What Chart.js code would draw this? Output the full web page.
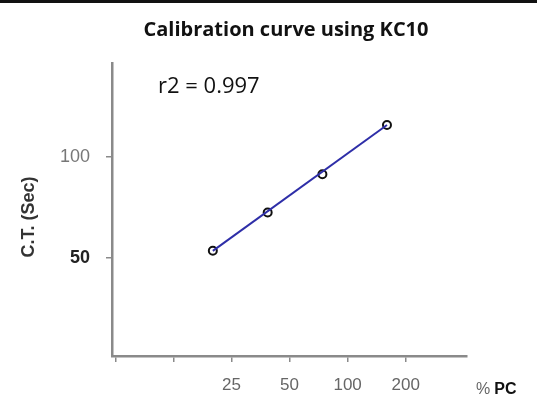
<!DOCTYPE html>
<html>
<head>
<meta charset="utf-8">
<script src="https://cdn.jsdelivr.net/npm/chart.js@4.4.1/dist/chart.umd.min.js"></script>
<style>
  html, body { margin: 0; padding: 0; background: #fff; }
  #wrap { width: 537px; height: 407px; }
</style>
</head>
<body>
<div id="wrap"><canvas id="calChart" width="537" height="407"></canvas></div>
<script>
/* values */
const pcPercent   = [20, 38.5, 74, 160];       // % PC
const clotTime    = [53.5, 72.4, 91.3, 115.6]; // C.T. (sec)
const fitPercent  = [20, 160];
const fitTime     = [53.5, 115.6];
const xTickValues = [6.25, 12.5, 25, 50, 100, 200];
const xTickLabels = ['', '', '25', '50', '100', '200'];
const yTickValues = [50, 100];
const yTickLabels = ['50', '100'];
const chartTitle  = 'Calibration curve using KC10';
const r2Text      = 'r2 = 0.997';
const yTitle      = 'C.T. (Sec)';

/* ---------- extra texts (title, r2, axis names) ---------- */
const decorations = {
  id: 'decorations',
  afterDraw(chart) {
    const c = chart.ctx;
    c.save();
    c.fillStyle = '#111';
    c.fillRect(0, 0, chart.width, 3);

    c.textBaseline = 'middle';
    c.textAlign = 'center';
    c.font = 'bold 20px "Open Sans"';
    c.fillText(chartTitle, 286, 30);

    c.textAlign = 'left';
    c.font = '22px "Open Sans"';
    c.fillText(r2Text, 158, 87);

    // % PC
    c.font = '16px "Liberation Sans"';
    c.fillStyle = '#666';
    c.fillText('%', 476, 390);
    const w = c.measureText('%').width;
    c.font = 'bold 16px "Liberation Sans"';
    c.fillStyle = '#111';
    c.fillText('PC', 476 + w + 4, 390);

    // y title
    c.translate(29, 217);
    c.rotate(-Math.PI / 2);
    c.textAlign = 'center';
    c.font = 'bold 18px "Liberation Sans"';
    c.fillStyle = '#333';
    c.fillText(yTitle, 0, 0);
    c.restore();
  }
};

const axisGrey = '#8a8a8a';

new Chart(document.getElementById('calChart'), {
  type: 'scatter',
  data: {
    datasets: [
      {
        type: 'line',
        data: fitPercent.map((x, i) => ({ x, y: fitTime[i] })),
        borderColor: '#2e2ea8',
        borderWidth: 2,
        pointRadius: 0,
        fill: false
      },
      {
        data: pcPercent.map((x, i) => ({ x, y: clotTime[i] })),
        pointRadius: 4,
        pointBorderWidth: 2,
        pointBorderColor: '#111',
        pointBackgroundColor: '#fff'
      }
    ]
  },
  options: {
    responsive: false,
    animation: false,
    layout: { padding: { top: 63, right: 70, left: 0, bottom: 0 } },
    plugins: { legend: { display: false }, tooltip: { enabled: false } },
    scales: {
      x: {
        type: 'logarithmic',
        min: 6, max: 416,
        afterBuildTicks: s => { s.ticks = xTickValues.map(v => ({ value: v })); },
        afterFit: s => { s.height = 51; },
        grid: { drawOnChartArea: false, tickLength: 6, color: axisGrey, lineWidth: 1.5 },
        border: { color: axisGrey, width: 2.5 },
        ticks: {
          callback: (v, i) => xTickLabels[i],
          color: '#666',
          font: { family: 'Liberation Sans', size: 17 },
          padding: 13, maxRotation: 0, autoSkip: false
        }
      },
      y: {
        min: 1.6, max: 146.2,
        afterBuildTicks: s => { s.ticks = yTickValues.map(v => ({ value: v })); },
        afterFit: s => { s.width = 112; },
        grid: { drawOnChartArea: false, tickLength: 6, color: axisGrey, lineWidth: 1.5 },
        border: { color: axisGrey, width: 2.5 },
        ticks: {
          callback: (v, i) => yTickLabels[i],
          color: ctx => ctx.index === 0 ? '#222' : '#777',
          font: ctx => ctx.index === 0
            ? { family: 'Liberation Sans', size: 18, weight: 'bold' }
            : { family: 'Liberation Sans', size: 18 },
          padding: 16
        }
      }
    }
  },
  plugins: [decorations]
});
</script>
</body>
</html>
